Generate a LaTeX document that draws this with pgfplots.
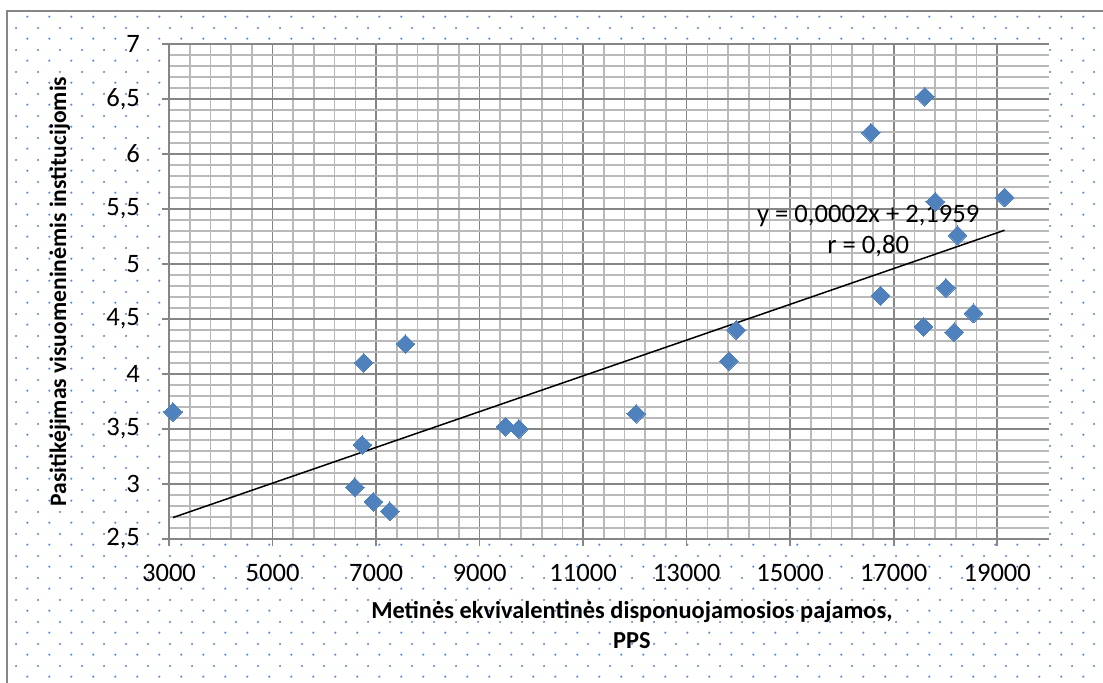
\documentclass[border=0pt]{standalone}
\usepackage{pgfplots}
\pgfplotsset{compat=1.18}
\usepackage{fontspec}
\setmainfont{Carlito}
\usetikzlibrary{patterns}
\definecolor{dotblue}{RGB}{100,140,200}
\definecolor{mkblue}{RGB}{79,129,189}
\definecolor{majgray}{RGB}{134,134,134}
\definecolor{mingray}{RGB}{185,185,185}
\pgfdeclarepatternformonly{xdots}{\pgfqpoint{0pt}{0pt}}{\pgfqpoint{10.85pt}{10.85pt}}{\pgfqpoint{10.85pt}{10.85pt}}{%
 \pgfpathcircle{\pgfqpoint{2.7pt}{2.7pt}}{0.6pt}%
 \pgfpathcircle{\pgfqpoint{8.125pt}{8.125pt}}{0.6pt}%
 \pgfusepath{fill}%
}
\begin{document}
\begin{tikzpicture}
\begin{scope}
\clip (-84.5pt,-71.5pt) rectangle (467pt,269.5pt);
\fill[white] (-84.5pt,-71.5pt) rectangle (467pt,269.5pt);
\fill[pattern=xdots, pattern color=dotblue] (-81pt,-80pt) rectangle (480pt,264pt);
\draw[majgray, line width=1pt] (-81pt,-80pt) rectangle (480pt,264pt);
\end{scope}
\begin{axis}[
 at={(0,0)}, anchor=south west,
 scale only axis, width=440pt, height=247.5pt,
 xmin=3000, xmax=20000, ymin=2.5, ymax=7,
 xtick={3000,5000,7000,9000,11000,13000,15000,17000,19000},
 ytick={2.5,3,3.5,4,4.5,5,5.5,6,6.5,7},
 minor x tick num=4, minor y tick num=4,
 scaled x ticks=false,
 axis x line*=bottom, axis y line*=left,
 axis line style={majgray, line width=0.8pt},
 grid=both,
 major grid style={majgray, line width=0.8pt},
 minor grid style={mingray, line width=0.8pt},
 tick align=outside,
 major tick length=3.5pt, minor tick length=0pt,
 tick style={majgray, line width=0.8pt},
 axis background/.style={fill=white},
 ticklabel style={font=\fontsize{13.3}{16}\selectfont, text=black},
 xticklabel style={yshift=-5.5pt},
 yticklabel style={xshift=-7.5pt},
 xlabel={Metinės ekvivalentinės disponuojamosios pajamos,\\PPS},
 xlabel style={at={(axis description cs:0.526,-0.1737)}, anchor=center, align=center, font=\bfseries\fontsize{12.2}{15}\selectfont},
 ylabel={Pasitikėjimas visuomeninėmis institucijomis},
 ylabel style={at={(axis description cs:-0.124,0.5)}, anchor=center, font=\bfseries\fontsize{11.8}{14}\selectfont},
 /pgf/number format/.cd, use comma, 1000 sep={}, assume math mode=true, /pgfplots/.cd,
]
\addplot[only marks, mark=square*, mark size=3.3pt, mark options={rotate=45, fill=mkblue, draw=mkblue, line width=0pt}] coordinates {
(3077,3.655) (6762,4.103) (6735,3.355) (6588,2.970) (6948,2.839) (7265,2.752)
(7566,4.273) (9499,3.521) (9757,3.500) (12024,3.639) (13815,4.118) (13957,4.400)
(16560,6.194) (17602,6.521) (17802,5.566) (19142,5.606) (18233,5.261) (16745,4.712)
(18008,4.782) (17576,4.430) (18169,4.379) (18542,4.552)
};
\addplot[black, line width=0.75pt] coordinates {(3077,2.695) (19142,5.307)};
\node[font=\fontsize{13.3}{15.5}\selectfont, align=center] at (axis cs:16507,5.295) {y = 0,0002x + 2,1959\\r = 0,80};
\end{axis}
\pgfresetboundingbox
\useasboundingbox (-84.5pt,-71.5pt) rectangle (467pt,269.5pt);
\end{tikzpicture}
\end{document}
